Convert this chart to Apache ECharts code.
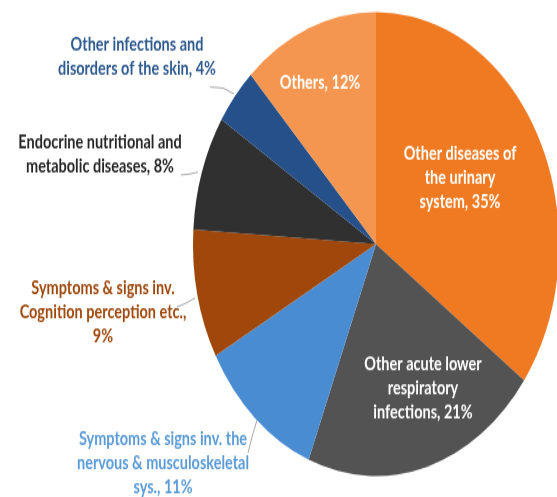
<!DOCTYPE html>
<html>
<head>
<meta charset="utf-8">
<script src="https://cdn.jsdelivr.net/npm/echarts@6/dist/echarts.min.js"></script>
<style>
html,body{margin:0;padding:0;background:#fff;overflow:hidden;}
#wrap{width:557px;height:497px;overflow:hidden;position:relative;}
#chart{width:557px;height:392px;transform:scaleY(1.2679);transform-origin:0 0;position:absolute;left:0;top:0;}
</style>
</head>
<body>
<div id="wrap"><div id="chart"></div></div>
<script>
var categories = [
  'Other diseases of\nthe urinary\nsystem',
  'Other acute lower\nrespiratory\ninfections',
  'Symptoms & signs inv. the\nnervous & musculoskeletal\nsys.',
  'Symptoms & signs inv.\nCognition perception etc.,\n',
  'Endocrine nutritional and\nmetabolic diseases',
  'Other infections and\ndisorders of the skin',
  'Others'
];
var values = [35, 21, 11, 9, 8, 4, 12];
var sliceColors = ['#F07A22', '#535353', '#4A8CD2', '#A0470B', '#303030', '#25508A', '#F4964F'];
var labelColors = ['#ffffff', '#ffffff', '#5B9BD5', '#9E480E', '#262626', '#2F5A8E', '#ffffff'];
var insideLabel = [true, true, false, false, false, false, true];

// label anchor positions (unscaled chart coords)
var labelPos = [[460,140.4],[423,306],[163,365.2],[103,246.8],[100,122.2],[137,44.6],[320,65.5]];
var linePts = [
  null, null,
  [[257,331.2],[252,344.6],[248,357.3]],
  [[195,235],[186,239],[177,242.1]],
  [[198,135.7],[190,137.2],[181,138]],
  [[234,74.1],[223,69.4],[210,68.6]],
  null
];

var font = "Lato,Roboto,sans-serif";
var data = categories.map(function (c, i) {
  return {
    name: c,
    value: values[i],
    itemStyle: { color: sliceColors[i] },
    label: {
      show: true,
      position: insideLabel[i] ? 'inside' : 'outside',
      color: labelColors[i],
      overflow: 'none',
      formatter: function (p) {
        var n = p.name;
        var s = n.slice(-1) === '\n' ? '' : ', ';
        return n + s + p.value + '%';
      }
    },
    labelLine: { show: !insideLabel[i] }
  };
});

var chart = echarts.init(document.getElementById('chart'), null, { renderer: 'canvas' });
chart.setOption({
  animation: false,
  series: [{
    type: 'pie',
    center: [376, 192.4],
    radius: [0, 183],
    startAngle: 90,
    clockwise: true,
    data: data,
    avoidLabelOverlap: false,
    label: {
      fontFamily: font,
      fontWeight: 'bold',
      fontSize: 14.5,
      lineHeight: 19,
      align: 'center',
      overflow: 'none',
      alignTo: 'none'
    },
    labelLine: {
      lineStyle: { color: '#A6A6A6', width: 1 },
      length: 10, length2: 10
    },
    labelLayout: function (p) {
      var i = p.dataIndex;
      var res = {
        x: labelPos[i][0],
        y: labelPos[i][1],
        align: 'center',
        verticalAlign: 'middle'
      };
      if (linePts[i]) res.labelLinePoints = linePts[i];
      return res;
    },
    emphasis: { disabled: true }
  }]
});
</script>
</body>
</html>
